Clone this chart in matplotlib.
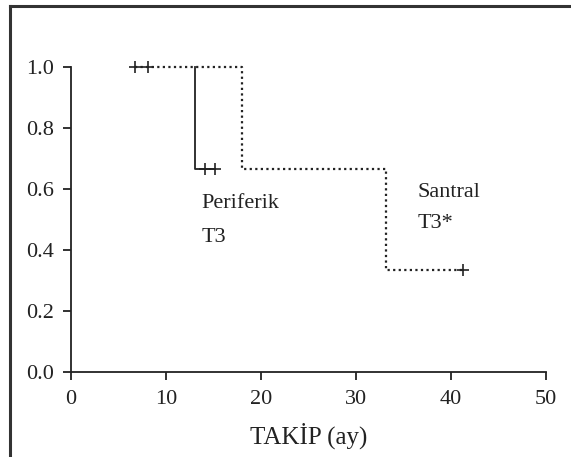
import matplotlib
matplotlib.use('Agg')
import matplotlib.pyplot as plt
from matplotlib.lines import Line2D

plt.rcParams['font.family'] = ['Liberation Serif', 'DejaVu Serif']

# Kaplan-Meier curves
periferik_t = [13, 13, 15.2]
periferik_s = [1.0, 0.667, 0.667]
periferik_cens_t = [14.1, 15.2]
periferik_cens_s = [0.667, 0.667]

santral_t = [6.7, 18, 18, 33.2, 33.2, 41.3]
santral_s = [1.0, 1.0, 0.667, 0.667, 0.333, 0.333]
santral_cens_t = [6.7, 8.1, 41.3]
santral_cens_s = [1.0, 1.0, 0.333]

xticks = [0, 10, 20, 30, 40, 50]
yticks = [0.0, 0.2, 0.4, 0.6, 0.8, 1.0]

fig = plt.figure(figsize=(5.71, 4.57), dpi=100)
ax = fig.add_axes([71/571, 1-372/457, 475/571, 305/457])

ink = '#222222'
ax.plot(santral_t, santral_s, color=ink, lw=1.6, ls=(0, (1, 1.5)), clip_on=False)
ax.plot(periferik_t, periferik_s, color=ink, lw=1.3, clip_on=False)
ax.plot(santral_cens_t, santral_cens_s, ls='none', marker='+', ms=9, mew=1.2, color=ink, clip_on=False)
ax.plot(periferik_cens_t, periferik_cens_s, ls='none', marker='+', ms=9, mew=1.2, color=ink, clip_on=False)

ax.text(13.7, 0.538, 'Periferik', fontsize=16, ha='left', va='baseline', color=ink)
ax.text(13.7, 0.426, 'T3', fontsize=16, ha='left', va='baseline', color=ink)
ax.text(36.5, 0.574, 'Santral', fontsize=16, ha='left', va='baseline', color=ink)
ax.text(36.5, 0.472, 'T3*', fontsize=16, ha='left', va='baseline', color=ink)

ax.set_xlim(0, 50)
ax.set_ylim(0, 1.0)
ax.set_xticks(xticks)
ax.set_yticks(yticks)
ax.set_xticklabels([str(v) for v in xticks])
ax.set_yticklabels(['%.1f' % v for v in yticks])
ax.tick_params(labelsize=16, length=6, width=1.3, colors=ink)
ax.tick_params(axis='x', pad=7)
ax.tick_params(axis='y', pad=6)
for s in ['top', 'right']:
    ax.spines[s].set_visible(False)
for s in ['left', 'bottom']:
    ax.spines[s].set_linewidth(1.3)
    ax.spines[s].set_color(ink)
ax.set_xlabel('TAKİP (ay)', fontsize=18, color=ink, labelpad=10)
ax.patch.set_visible(False)

# frame around the figure (left and top edges visible)
fig.add_artist(Line2D([9.5/571, 9.5/571], [0, 1-5.5/457], color='#333333', lw=2.2))
fig.add_artist(Line2D([9.5/571, 1], [1-5.5/457, 1-5.5/457], color='#333333', lw=2.2))

fig.savefig('out.png', dpi=100)
